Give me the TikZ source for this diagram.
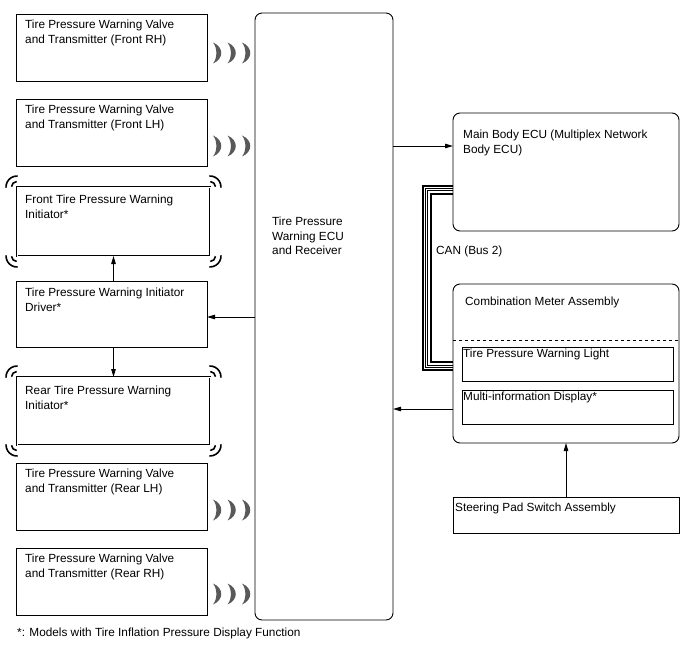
\documentclass[tikz,border=0pt]{standalone}
\usepackage{fontspec}
\setmainfont{Liberation Sans}
\usetikzlibrary{arrows.meta,calc}
\begin{document}
\begin{tikzpicture}[x=1pt,y=-1pt,
  box/.style={draw, line width=0.9pt, anchor=north west, inner sep=0pt, outer sep=0pt},
  rbox/.style={box, rounded corners=7pt},
  ibox/.style={box, double, double distance=1pt, line width=0.55pt},
  txt/.style={anchor=north west, inner sep=0pt, align=left, font=\fontsize{11.8}{14.6}\selectfont},
  arr/.style={line width=0.9pt, -{Triangle[length=8pt,width=4.5pt]}},
  brk/.style={line width=1.6pt},
  canthick/.style={line width=2pt},
  canthin/.style={line width=0.5pt},
  wave/.pic={\foreach \dx in {0,14.5,29}{\fill[black!65] (\dx,-10.5) .. controls (\dx+11,-6) and (\dx+11,6) .. (\dx,10.5) .. controls (\dx+4.5,5) and (\dx+4.5,-5) .. (\dx,-10.5) -- cycle;}}
]
\useasboundingbox (0,0) rectangle (688,658);

% left column boxes
\node[box, minimum width=191pt, minimum height=67pt] (b1) at (16,14) {};
\node[box, minimum width=191pt, minimum height=67pt] (b2) at (16,99) {};
\node[ibox, minimum width=193pt, minimum height=69pt] (fi) at (17,187) {};
\node[box, minimum width=191pt, minimum height=66pt] (dr) at (16,281) {};
\node[ibox, minimum width=193pt, minimum height=68pt] (ri) at (17,377) {};
\node[box, minimum width=191pt, minimum height=67pt] (b3) at (16,463) {};
\node[box, minimum width=191pt, minimum height=67pt] (b4) at (16,548) {};

% ECU
\node[rbox, minimum width=138pt, minimum height=607pt] (ecu) at (255,13) {};

% right side
\node[rbox, minimum width=226pt, minimum height=118pt] (mb) at (453,113) {};
\node[rbox, minimum width=226pt, minimum height=159pt] (cm) at (453,284) {};
\node[box, minimum width=211pt, minimum height=34pt] (tl) at (462,347) {};
\node[box, minimum width=211pt, minimum height=34pt] (md) at (462,390) {};
\node[box, minimum width=226pt, minimum height=36pt] (sp) at (453,497) {};
\draw[dashed, line width=0.7pt] (cm.west |- 0,340) -- (cm.east |- 0,340);

% texts
\node[txt] (t1) at (25,20) {Tire Pressure Warning Valve\\and Transmitter (Front RH)};
\node[txt] (t2) at (25,105) {Tire Pressure Warning Valve\\and Transmitter (Front LH)};
\node[txt] (t3) at (25,195) {Front Tire Pressure Warning\\Initiator*};
\node[txt] (t4) at (25,288) {Tire Pressure Warning Initiator\\Driver*};
\node[txt] (t5) at (25,386) {Rear Tire Pressure Warning\\Initiator*};
\node[txt] (t6) at (25,469) {Tire Pressure Warning Valve\\and Transmitter (Rear LH)};
\node[txt] (t7) at (25,554) {Tire Pressure Warning Valve\\and Transmitter (Rear RH)};
\node[txt] (t8) at (272,217) {Tire Pressure\\Warning ECU\\and Receiver};
\node[txt] (t9) at (463,130) {Main Body ECU (Multiplex Network\\Body ECU)};
\node[txt] (t10) at (465,297) {Combination Meter Assembly};
\node[txt] (t11) at (463,349) {Tire Pressure Warning Light};
\node[txt] (t12) at (463,392) {Multi-information Display*};
\node[txt] (t13) at (455,503) {Steering Pad Switch Assembly};
\node[txt] (t14) at (436,246) {CAN (Bus 2)};
\node[txt] (fn) at (17,628) {*: Models with Tire Inflation Pressure Display Function};

% radio waves
\pic at (213,53) {wave};
\pic at (213,146) {wave};
\pic at (213,510) {wave};
\pic at (213,594) {wave};

% initiator corner brackets
\foreach \n in {fi,ri}{
  \foreach \c/\a in {north west/225, north east/315, south west/135, south east/45}{
    \draw[brk] (\n.\c) ++(\a-48:11) arc[start angle=\a-48, end angle=\a+48, radius=11];
    \draw[brk] (\n.\c) ++(\a-42:5.5) arc[start angle=\a-42, end angle=\a+42, radius=5.5];
  }
}

% arrows
\draw[arr] (ecu.east |- 0,146) -- (mb.west |- 0,146);
\draw[arr] (ecu.west |- 0,317) -- (dr.east |- 0,317);
\draw[arr] (dr.north -| fi.south) -- (fi.south);
\draw[arr] (dr.south -| ri.north) -- (ri.north);
\draw[arr] (cm.west |- 0,409) -- (ecu.east |- 0,409);
\draw[arr] (sp.north) -- (sp.north |- cm.south);

% CAN bus
\draw[canthick] (mb.west |- 0,186) -- (423,186) -- (423,369.5) -- (cm.west |- 0,369.5);
\draw[canthin] (mb.west |- 0,188.7) -- (425.7,188.7) -- (425.7,366.8) -- (cm.west |- 0,366.8);
\draw[canthin] (mb.west |- 0,190.7) -- (427.7,190.7) -- (427.7,364.8) -- (cm.west |- 0,364.8);
\draw[canthick] (mb.west |- 0,193.5) -- (430.5,193.5) -- (430.5,362) -- (cm.west |- 0,362);
\end{tikzpicture}
\end{document}
